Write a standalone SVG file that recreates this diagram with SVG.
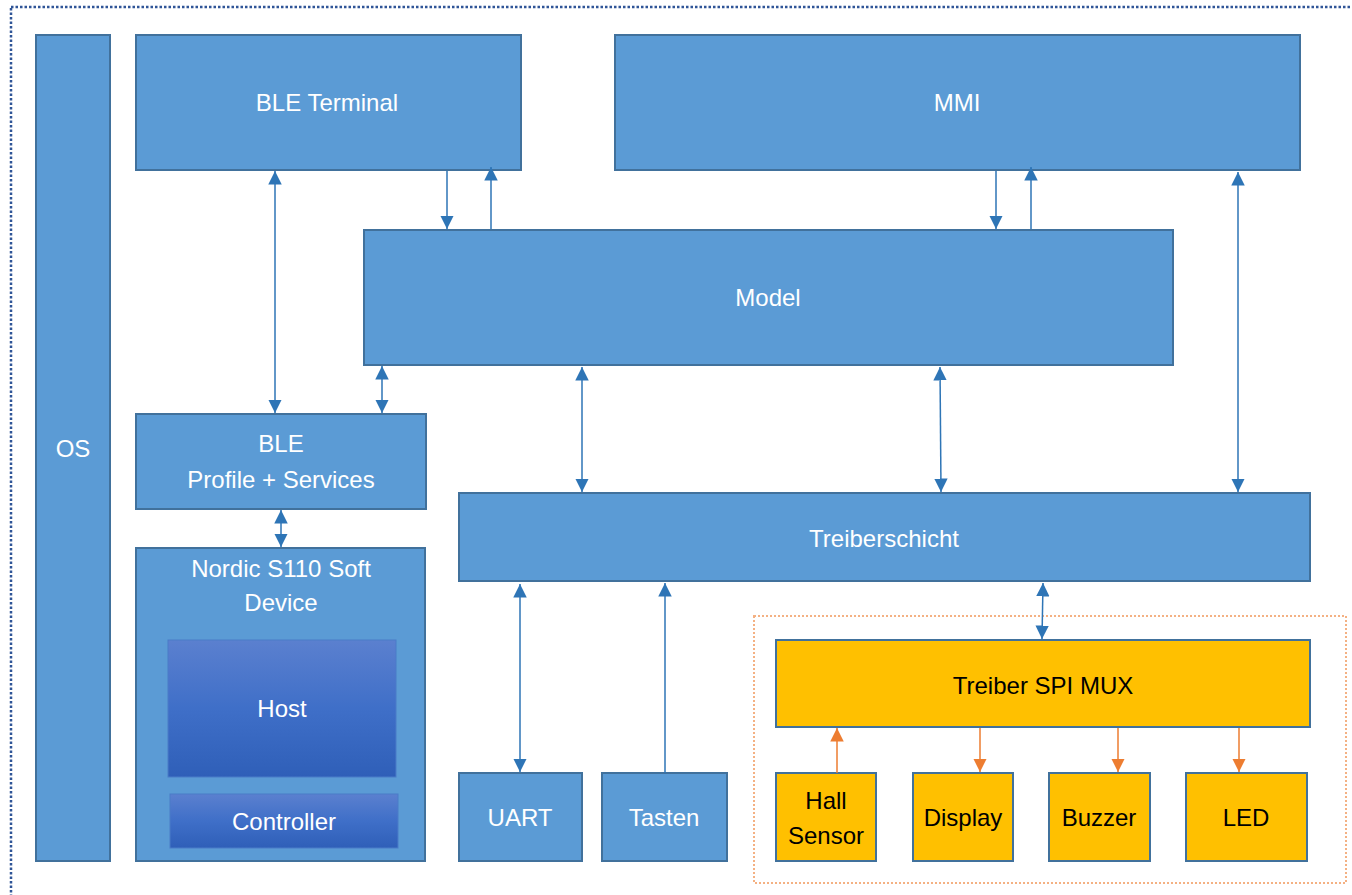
<svg xmlns="http://www.w3.org/2000/svg" width="1352" height="895" viewBox="0 0 1352 895">
<defs>
<style>
.b{fill:#5b9bd5;stroke:#41719c;stroke-width:2}
.y{fill:#ffc000;stroke:#41719c;stroke-width:2}
.t{font-family:"Liberation Sans","Open Sans",sans-serif;font-size:24px;fill:#ffffff;text-anchor:middle}
.k{font-family:"Liberation Sans","Open Sans",sans-serif;font-size:24px;fill:#000000;text-anchor:middle}
.c{stroke:#2e75b6;stroke-width:1.5;fill:none}
.o{stroke:#ed7d31;stroke-width:1.5;fill:none}
</style>
<linearGradient id="g" x1="0" y1="0" x2="0" y2="1">
<stop offset="0" stop-color="#5b80cf"/>
<stop offset="0.5" stop-color="#3f6fc8"/>
<stop offset="1" stop-color="#2f5fb8"/>
</linearGradient>
<marker id="ab" viewBox="0 0 10 10" refX="10" refY="5" markerWidth="9" markerHeight="9" markerUnits="strokeWidth" orient="auto-start-reverse">
<path d="M0,0 L10,5 L0,10 z" fill="#2e75b6"/>
</marker>
<marker id="ao" viewBox="0 0 10 10" refX="10" refY="5" markerWidth="9" markerHeight="9" markerUnits="strokeWidth" orient="auto-start-reverse">
<path d="M0,0 L10,5 L0,10 z" fill="#ed7d31"/>
</marker>
</defs>
<rect x="0" y="0" width="1352" height="895" fill="#ffffff"/>
<rect x="11" y="7" width="1370" height="920" fill="none" stroke="#2f5597" stroke-width="2.5" stroke-dasharray="2.5,2"/>
<rect x="754" y="616" width="592" height="267" fill="none" stroke="#f4b183" stroke-width="2" stroke-dasharray="2,2"/>

<g id="os"><rect class="b" x="36" y="35" width="74" height="826"/><text class="t" x="73" y="457">OS</text></g>
<g id="ble-terminal"><rect class="b" x="136" y="35" width="385" height="135"/><text class="t" x="327" y="111">BLE Terminal</text></g>
<g id="mmi"><rect class="b" x="615" y="35" width="685" height="135"/><text class="t" x="957" y="111">MMI</text></g>
<g id="model"><rect class="b" x="364" y="230" width="809" height="135"/><text class="t" x="768" y="306">Model</text></g>
<g id="ble-profile"><rect class="b" x="136" y="414" width="290" height="95"/><text class="t" x="281" y="452">BLE</text><text class="t" x="281" y="488">Profile + Services</text></g>
<g id="nordic"><rect class="b" x="136" y="548" width="289" height="313"/><text class="t" x="281" y="577">Nordic S110 Soft</text><text class="t" x="281" y="611">Device</text></g>
<g id="host"><rect x="168" y="640" width="228" height="137" fill="url(#g)" stroke="#4a7cc8" stroke-width="1"/><text class="t" x="282" y="717">Host</text></g>
<g id="controller"><rect x="170" y="794" width="228" height="54" fill="url(#g)" stroke="#4a7cc8" stroke-width="1"/><text class="t" x="284" y="830">Controller</text></g>
<g id="treiberschicht"><rect class="b" x="459" y="493" width="851" height="88"/><text class="t" x="884" y="547">Treiberschicht</text></g>
<g id="uart"><rect class="b" x="459" y="773" width="123" height="88"/><text class="t" x="520" y="826">UART</text></g>
<g id="tasten"><rect class="b" x="602" y="773" width="125" height="88"/><text class="t" x="664" y="826">Tasten</text></g>
<g id="spi-mux"><rect class="y" x="776" y="640" width="534" height="87"/><text class="k" x="1043" y="694">Treiber SPI MUX</text></g>
<g id="hall"><rect class="y" x="776" y="773" width="100" height="88"/><text class="k" x="826" y="809">Hall</text><text class="k" x="826" y="844">Sensor</text></g>
<g id="display"><rect class="y" x="913" y="773" width="100" height="88"/><text class="k" x="963" y="826">Display</text></g>
<g id="buzzer"><rect class="y" x="1049" y="773" width="101" height="88"/><text class="k" x="1099" y="826">Buzzer</text></g>
<g id="led"><rect class="y" x="1186" y="773" width="121" height="88"/><text class="k" x="1246" y="826">LED</text></g>

<g id="connectors">
<line class="c" x1="275" y1="171" x2="275" y2="413" marker-start="url(#ab)" marker-end="url(#ab)"/>
<line class="c" x1="447" y1="171" x2="447" y2="229" marker-end="url(#ab)"/>
<line class="c" x1="491" y1="229" x2="491" y2="167" marker-end="url(#ab)"/>
<line class="c" x1="996" y1="171" x2="996" y2="229" marker-end="url(#ab)"/>
<line class="c" x1="1031" y1="229" x2="1031" y2="167" marker-end="url(#ab)"/>
<line class="c" x1="1238" y1="172" x2="1238" y2="492" marker-start="url(#ab)" marker-end="url(#ab)"/>
<line class="c" x1="382" y1="366" x2="382" y2="413" marker-start="url(#ab)" marker-end="url(#ab)"/>
<line class="c" x1="582" y1="367" x2="582" y2="492" marker-start="url(#ab)" marker-end="url(#ab)"/>
<line class="c" x1="940" y1="367" x2="941" y2="492" marker-start="url(#ab)" marker-end="url(#ab)"/>
<line class="c" x1="281" y1="510" x2="281" y2="547" marker-start="url(#ab)" marker-end="url(#ab)"/>
<line class="c" x1="520" y1="584" x2="520" y2="772" marker-start="url(#ab)" marker-end="url(#ab)"/>
<line class="c" x1="665" y1="773" x2="665" y2="583" marker-end="url(#ab)"/>
<line class="c" x1="1043" y1="583" x2="1042" y2="639" marker-start="url(#ab)" marker-end="url(#ab)"/>
<line class="o" x1="837" y1="773" x2="837" y2="728" marker-end="url(#ao)"/>
<line class="o" x1="980" y1="728" x2="980" y2="772" marker-end="url(#ao)"/>
<line class="o" x1="1118" y1="728" x2="1118" y2="772" marker-end="url(#ao)"/>
<line class="o" x1="1239" y1="728" x2="1239" y2="772" marker-end="url(#ao)"/>
</g>
</svg>
